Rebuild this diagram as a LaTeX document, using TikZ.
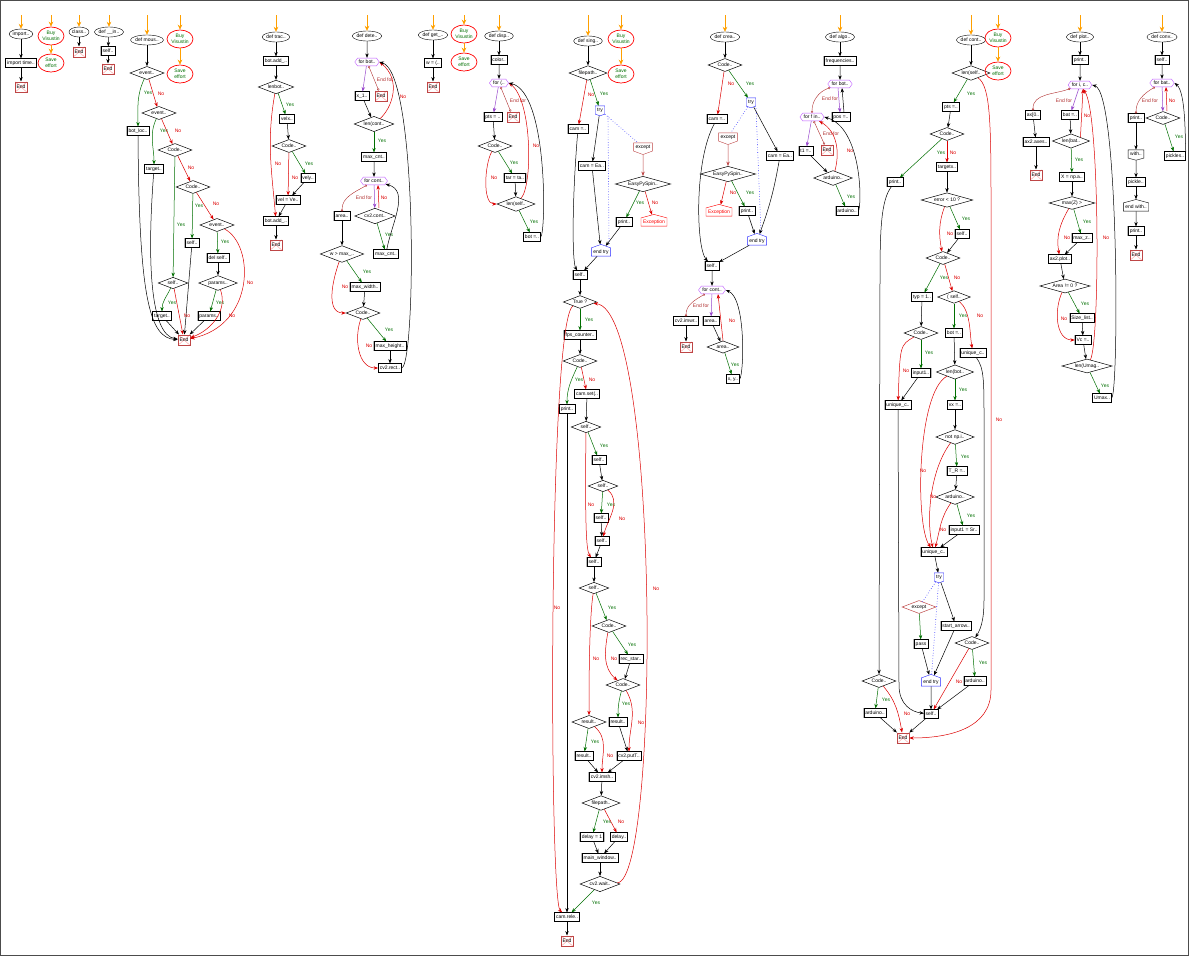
\documentclass[tikz,border=0pt]{standalone}
\usepackage{fontspec}
\setmainfont{Liberation Sans}
\usetikzlibrary{arrows.meta,shapes.geometric,shapes.symbols}
\newcommand{\chartfont}{\fontsize{5}{5.6}\selectfont}
\definecolor{yesc}{RGB}{0,110,0}
\definecolor{noc}{RGB}{220,0,0}
\definecolor{loopc}{RGB}{190,90,255}
\definecolor{efc}{RGB}{175,45,45}
\definecolor{excc}{RGB}{190,70,70}
\definecolor{orng}{RGB}{255,160,0}
\definecolor{tryc}{RGB}{40,40,255}
\tikzset{
  basefont/.style={font=\chartfont, text height=3.6pt, text depth=1pt},
  startbox/.style={basefont, ellipse, draw, fill=white, inner xsep=0pt, inner ysep=0.3pt, minimum height=10pt},
  buybox/.style={ellipse, draw=red, line width=0.7pt, font=\chartfont, text=yesc, align=center, inner sep=0pt, minimum width=26pt, minimum height=18pt},
  procbox/.style={basefont, rectangle, draw, fill=white, line width=0.5pt, inner xsep=1.5pt, inner ysep=2pt, preaction={draw=gray!55, line width=1.6pt}},
  decbox/.style={basefont, diamond, draw, fill=white, line width=0.5pt, aspect=2.6, inner sep=1pt},
  widebox/.style={aspect=3.6},
  forbox/.style={basefont, signal, signal to=east and west, signal pointer angle=110, draw=loopc, fill=white, inner xsep=1pt, inner ysep=1.6pt},
  trybox/.style={basefont, signal, signal to=south, signal pointer angle=140, draw=tryc, fill=white, inner xsep=2pt, inner ysep=1.8pt},
  endtrybox/.style={trybox, signal to=north},
  exceptbox/.style={trybox, draw=excc},
  errbox/.style={trybox, signal to=north, signal pointer angle=150, draw=red, text=red},
  withbox/.style={trybox, draw=black, signal pointer angle=150},
  endwithbox/.style={withbox, signal to=north},
  endbox/.style={basefont, rectangle, draw=excc, line width=0.5pt, fill=white, minimum width=12pt, minimum height=10.5pt, inner sep=0.3pt,
    path picture={\draw[red!40, line width=0.4pt] (path picture bounding box.north west) -- (path picture bounding box.south east)
      (path picture bounding box.north east) -- (path picture bounding box.south west);}},
  arr/.style={-{Stealth[length=4.5pt,width=3.4pt]}, line width=0.5pt},
  yesline/.style={arr, draw=yesc},
  noline/.style={arr, draw=noc},
  forline/.style={arr, draw=loopc!80!black},
  excline/.style={arr, draw=excc},
  exitline/.style={draw=efc, line width=0.4pt, {Circle[open,length=2.3pt]}-{Circle[open,length=2.3pt]}},
  dotline/.style={-, draw=tryc, dotted, line width=0.6pt},
  entryline/.style={draw=orng, line width=0.8pt, -{Stealth[length=5pt,width=4.6pt]}},
  ylab/.style={basefont, text=yesc, inner sep=0.5pt},
  nlab/.style={basefont, text=noc, inner sep=0.5pt},
  eflab/.style={basefont, text=efc, inner sep=0.5pt}
}
\begin{document}
\begin{tikzpicture}[x=1pt,y=1pt]
  \useasboundingbox (0,0) rectangle (1189,-956);
  \draw[gray!60!black, line width=0.8pt] (0.4,-0.4) rectangle (1188.6,-955.6);

  % small entry columns
  \path
    (21,-15) coordinate (A0)
    (21,-34) node[startbox] (A1) {import..}
    (21,-63) node[procbox] (A2) {import time..}
    (21,-87) node[endbox] (A3) {End}
    (51,-15) coordinate (B0)
    (51,-36) node[buybox] (B1) {Buy\\Visustin}
    (51,-63) node[buybox] (B2) {Save\\effort}
    (79,-15) coordinate (C0)
    (79,-32) node[startbox] (C1) {class..}
    (79,-52) node[endbox] (C2) {End}
    (109,-15) coordinate (D0)
    (109,-32) node[startbox] (D1) {def \_\_in..}
    (108,-51) node[procbox] (D2) {self..}
    (108,-69) node[endbox] (D3) {End};
  \begin{scope}[arr]
    \draw[entryline] (A0) -- (A1);
    \draw[entryline] (B0) -- (B1);
    \draw[entryline] (B1) -- (B2);
    \draw[entryline] (C0) -- (C1);
    \draw[entryline] (D0) -- (D1);
    \draw (A1) -- (A2);
    \draw (A2) -- (A3);
    \draw (C1) -- (C2);
    \draw (D1) -- (D2);
    \draw (D2) -- (D3);
  \end{scope}

  % def mous..
  \path
    (147,-15) coordinate (E0)
    (147,-40) node[startbox] (E1) {def mous..}
    (147,-73) node[decbox] (E2) {event..}
    (138,-131) node[procbox] (E3) {bot\_loc..}
    (159,-113) node[decbox] (E4) {event..}
    (154,-169) node[procbox] (E5) {target..}
    (175,-150) node[decbox] (E6) {Code..}
    (193,-187) node[decbox] (E7) {Code..}
    (192,-243) node[procbox] (E9) {self..}
    (217,-225) node[decbox] (E10) {event..}
    (218,-258) node[procbox] (E11) {del self..}
    (218,-283) node[decbox] (E12) {params..}
    (173,-283) node[decbox] (E8) {self..}
    (162,-316) node[procbox] (E13) {target..}
    (209,-316) node[procbox] (E14) {params..}
    (184,-340) node[endbox] (E15) {End}
    (180,-15) coordinate (F0)
    (180,-39) node[buybox] (F1) {Buy\\Visustin}
    (180,-74) node[buybox] (F2) {Save\\effort};
  \begin{scope}[arr]
    \draw[entryline] (E0) -- (E1);
    \draw[entryline] (F0) -- (F1);
    \draw[entryline] (F1) -- (F2);
    \draw (E1) -- (E2);
    \draw[yesline] (E2) to[out=-115,in=90] (E3) node[ylab] at (148,-93) {Yes};
    \draw[noline] (E2) -- (E4) node[nlab] at (161,-94) {No};
    \draw[yesline] (E4) to[out=-115,in=90] (E5) node[ylab] at (164,-131) {Yes};
    \draw[noline] (E4) -- (E6) node[nlab] at (178,-131) {No};
    \draw[yesline] (E6) -- (E8) node[ylab] at (181,-225) {Yes};
    \draw[noline] (E6) -- (E7) node[nlab] at (191,-168) {No};
    \draw[yesline] (E7) -- (E9) node[ylab] at (199,-206) {Yes};
    \draw[noline] (E7) -- (E10) node[nlab] at (216,-204) {No};
    \draw[yesline] (E10) -- (E11) node[ylab] at (225,-242) {Yes};
    \draw[noline] (E10) .. controls (255,-245) and (255,-325) .. (E15) node[nlab] at (250,-283) {No};
    \draw (E11) -- (E12);
    \draw[yesline] (E12) -- (E14) node[ylab] at (220,-303) {Yes};
    \draw[noline] (E12) to[out=-70,in=20] (E15) node[nlab] at (232,-316) {No};
    \draw[yesline] (E8) to[out=-115,in=90] (E13) node[ylab] at (172,-303) {Yes};
    \draw[noline] (E8) -- (E15) node[nlab] at (187,-316) {No};
    \draw (E3) .. controls (139,-300) and (150,-338) .. (E15);
    \draw (E5) .. controls (147,-260) and (150,-335) .. (E15);
    \draw (E9) -- (E15);
    \draw (E13) -- (E15);
    \draw (E14) -- (E15);
  \end{scope}

  % def trac..
  \path
    (276,-15) coordinate (G0)
    (276,-37) node[startbox] (G1) {def trac..}
    (276,-61) node[procbox] (G2) {bot.add\_..}
    (276,-87) node[decbox] (G3) {lenbot..}
    (287,-119) node[procbox] (G4) {velx..}
    (289,-146) node[decbox] (G5) {Code..}
    (308,-178) node[procbox] (G6) {vely..}
    (288,-200) node[procbox] (G7) {vel = Ve..}
    (276,-221) node[procbox] (G8) {bot.add\_..}
    (276,-245) node[endbox] (G9) {End};
  \begin{scope}[arr]
    \draw[entryline] (G0) -- (G1);
    \draw (G1) -- (G2);
    \draw (G2) -- (G3);
    \draw[yesline] (G3) -- (G4) node[ylab] at (290,-105) {Yes};
    \draw[noline] (G3) to[out=-100,in=95] (G8) node[nlab] at (278,-164) {No};
    \draw (G4) -- (G5);
    \draw[yesline] (G5) -- (G6) node[ylab] at (309,-164) {Yes};
    \draw[noline] (G5) -- (G7) node[nlab] at (295,-178) {No};
    \draw (G6) -- (G7);
    \draw (G7) -- (G8);
    \draw (G8) -- (G9);
  \end{scope}

  % def dete..
  \path
    (367,-15) coordinate (H0)
    (367,-36) node[startbox] (H1) {def dete..}
    (367,-62) node[forbox] (H2) {for bot..}
    (362,-96) node[procbox] (H3) {x\_1..}
    (381,-96) node[endbox] (H4) {End}
    (374,-124) node[decbox] (H5) {len(cont..}
    (374,-157) node[procbox] (H6) {max\_cnt..}
    (374,-181) node[forbox] (H7) {for cont..}
    (342,-216) node[procbox] (H8) {area..}
    (375,-216) node[decbox] (H9) {cv2.cont..}
    (386,-254) node[procbox] (H10) {max\_cnt..}
    (342,-254) node[decbox] (H11) {w > max\_..}
    (365,-287) node[procbox] (H12) {max\_width..}
    (363,-313) node[decbox] (H13) {Code..}
    (390,-346) node[procbox] (H14) {max\_height..}
    (390,-368) node[procbox] (H15) {cv2.rect..};
  \begin{scope}[arr]
    \draw[entryline] (H0) -- (H1);
    \draw (H1) -- (H2);
    \draw[forline] (H2) -- (H3);
    \draw[exitline] (H2) -- (H4) node[eflab] at (385,-80) {End for};
    \draw (H3) -- (H5);
    \draw[noline] (H5) .. controls (392,-108) and (402,-80) .. (H2.east) node[nlab] at (403,-97) {No};
    \draw[yesline] (H5) -- (H6) node[ylab] at (382,-141) {Yes};
    \draw (H6) -- (H7);
    \draw[exitline] (H7) to[out=-150,in=90] (H8) node[eflab] at (364,-198) {End for};
    \draw[forline] (H7) -- (H9);
    \draw[noline] ([xshift=4pt]H9.north) -- ([xshift=4pt]H7.south) node[nlab] at (384,-198) {No};
    \draw[yesline] (H9) -- (H10) node[ylab] at (389,-235) {Yes};
    \draw (H10) to[out=80,in=-15] (H7);
    \draw (H8) -- (H11);
    \draw[yesline] (H11) -- (H12) node[ylab] at (367,-272) {Yes};
    \draw[noline] (H11) to[out=-110,in=180] (H13) node[nlab] at (345,-287) {No};
    \draw (H12) -- (H13);
    \draw[yesline] (H13) -- (H14) node[ylab] at (389,-330) {Yes};
    \draw[noline] (H13) to[out=-110,in=180] (H15) node[nlab] at (369,-346) {No};
    \draw (H14) -- (H15);
    \draw (H15.east) .. controls (416,-362) and (418,-72) .. (H2.east);
  \end{scope}

  % def get_..
  \path
    (433,-15) coordinate (I0)
    (433,-35) node[startbox] (I1) {def get\_..}
    (433,-63) node[procbox] (I2) {w = (..}
    (433,-87) node[endbox] (I3) {End}
    (464,-15) coordinate (J0)
    (464,-34) node[buybox] (J1) {Buy\\Visustin}
    (464,-62) node[buybox] (J2) {Save\\effort};
  \begin{scope}[arr]
    \draw[entryline] (I0) -- (I1);
    \draw[entryline] (J0) -- (J1);
    \draw[entryline] (J1) -- (J2);
    \draw (I1) -- (I2);
    \draw (I2) -- (I3);
  \end{scope}

  % def disp..
  \path
    (499,-15) coordinate (K0)
    (499,-36) node[startbox] (K1) {def disp..}
    (499,-60) node[procbox] (K2) {color..}
    (499,-83) node[forbox] (K3) {for (..}
    (493,-117) node[procbox] (K4) {pts = ..}
    (513,-117) node[endbox] (K5) {End}
    (495,-146) node[decbox] (K6) {Code..}
    (515,-178) node[procbox] (K7) {tar = ta..}
    (516,-204) node[decbox] (K8) {len(self..}
    (532,-237) node[procbox] (K9) {bot =..};
  \begin{scope}[arr]
    \draw[entryline] (K0) -- (K1);
    \draw (K1) -- (K2);
    \draw (K2) -- (K3);
    \draw[forline] (K3) -- (K4);
    \draw[exitline] (K3) -- (K5) node[eflab] at (518,-101) {End for};
    \draw (K4) -- (K6);
    \draw[yesline] (K6) -- (K7) node[ylab] at (514,-163) {Yes};
    \draw[noline] (K6) to[out=-120,in=180,looseness=0.7] (K8) node[nlab] at (494,-178) {No};
    \draw (K7) -- (K8);
    \draw[noline] (K8) .. controls (533,-185) and (532,-100) .. (K3.east) node[nlab] at (536,-146) {No};
    \draw[yesline] (K8) -- (K9) node[ylab] at (534,-222) {Yes};
    \draw (K9.east) .. controls (546,-232) and (548,-92) .. (K3.east);
  \end{scope}

  % def sing..
  \path
    (588,-15) coordinate (L0)
    (588,-41) node[startbox] (L1) {def sing..}
    (588,-73) node[decbox] (L2) {filepath..}
    (578,-129) node[procbox] (L3) {cam =..}
    (600,-110) node[trybox] (L4) {try}
    (592,-166) node[procbox] (L5) {cam = Ea..}
    (643,-147) node[exceptbox] (L6) {except}
    (643,-184) node[decbox, widebox] (L7) {EasyPySpin..}
    (624,-222) node[procbox] (L8) {print..}
    (654,-222) node[errbox] (L9) {Exception}
    (601,-252) node[endtrybox] (L10) {end try}
    (580,-275) node[procbox] (L11) {self..}
    (580,-302) node[decbox] (L12) {True ?}
    (580,-335) node[procbox] (L13) {fps\_counter..}
    (580,-361) node[decbox] (L14) {Code..}
    (567,-409) node[procbox] (L15) {print..}
    (587,-394) node[procbox] (L16) {cam.set(..}
    (586,-427) node[decbox] (L17) {self..}
    (599,-460) node[procbox] (L18) {self..}
    (603,-486) node[decbox] (L19) {self..}
    (601,-518) node[procbox] (L20) {self..}
    (602,-541) node[procbox] (L21) {self..}
    (594,-562) node[procbox] (L22) {self..}
    (594,-588) node[decbox] (L23) {self..}
    (609,-626) node[decbox] (L24) {Code..}
    (631,-659) node[procbox] (L25) {rec\_star..}
    (623,-685) node[decbox] (L26) {Code..}
    (618,-722) node[procbox] (L27) {result..}
    (629,-756) node[procbox] (L28) {cv2.putT..}
    (589,-722) node[decbox] (L29) {result..}
    (584,-756) node[procbox] (L30) {result..}
    (602,-777) node[procbox] (L31) {cv2.imsh..}
    (601,-803) node[decbox] (L32) {filepath..}
    (592,-837) node[procbox] (L33) {delay = 1}
    (619,-837) node[procbox] (L34) {delay..}
    (600,-858) node[procbox] (L35) {main\_window..}
    (600,-884) node[decbox] (L36) {cv2.wait..}
    (567,-917) node[procbox] (L37) {cam.rele..}
    (567,-941) node[endbox] (L38) {End}
    (621,-15) coordinate (M0)
    (621,-39) node[buybox] (M1) {Buy\\Visustin}
    (621,-74) node[buybox] (M2) {Save\\effort};
  \begin{scope}[arr]
    \draw[entryline] (L0) -- (L1);
    \draw[entryline] (M0) -- (M1);
    \draw[entryline] (M1) -- (M2);
    \draw (L1) -- (L2);
    \draw[noline] (L2) -- (L3) node[nlab] at (591,-95) {No};
    \draw[yesline] (L2) -- (L4) node[ylab] at (604,-94) {Yes};
    \draw (L4) -- (L5);
    \draw[dotline] (L4) -- (L6);
    \draw[dotline] ([xshift=8pt]L4.south) -- ([xshift=8pt]L10.north);
    \draw[excline] (L6) -- (L7);
    \draw[yesline] (L7) -- (L8) node[ylab] at (640,-203) {Yes};
    \draw[noline] (L7) -- (L9) node[nlab] at (655,-203) {No};
    \draw (L8) -- (L10);
    \draw (L5) -- (L10);
    \draw (L3) .. controls (572,-200) and (572,-262) .. (L11);
    \draw (L10) -- (L11);
    \draw (L11) -- (L12);
    \draw[yesline] (L12) -- (L13) node[ylab] at (589,-320) {Yes};
    \draw[noline] (L12) .. controls (548,-320) and (549,-900) .. (L37) node[nlab] at (557,-608) {No};
    \draw (L13) -- (L14);
    \draw[yesline] (L14) to[out=-115,in=90] (L15) node[ylab] at (579,-380) {Yes};
    \draw[noline] (L14) -- (L16) node[nlab] at (592,-380) {No};
    \draw (L16) -- (L17);
    \draw[yesline] (L17) -- (L18) node[ylab] at (604,-446) {Yes};
    \draw[noline] (L17) .. controls (585,-520) and (586,-550) .. (L22) node[nlab] at (591,-505) {No};
    \draw (L18) -- (L19);
    \draw[yesline] (L19) -- (L20) node[ylab] at (611,-505) {Yes};
    \draw[noline] (L19) to[out=-40,in=75] (L21) node[nlab] at (622,-519) {No};
    \draw (L20) -- (L21);
    \draw (L21) -- (L22);
    \draw (L22) -- (L23);
    \draw[noline] (L23) .. controls (589,-620) and (589,-690) .. (L29) node[nlab] at (596,-659) {No};
    \draw[yesline] (L23) -- (L24) node[ylab] at (612,-608) {Yes};
    \draw[yesline] (L24) -- (L25) node[ylab] at (632,-645) {Yes};
    \draw[noline] (L24) to[out=-100,in=140] (L26) node[nlab] at (614,-659) {No};
    \draw (L25) -- (L26);
    \draw[yesline] (L26) to[out=-105,in=90] (L27) node[ylab] at (626,-704) {Yes};
    \draw[noline] (L26) to[out=-60,in=90] (L28) node[nlab] at (641,-723) {No};
    \draw (L27) -- (L28);
    \draw[yesline] (L29) -- (L30) node[ylab] at (595,-742) {Yes};
    \draw[noline] (L29) to[out=-40,in=90] (L31) node[nlab] at (610,-756) {No};
    \draw (L30) -- (L31);
    \draw (L28) -- (L31);
    \draw (L31) -- (L32);
    \draw[yesline] (L32) -- (L33) node[ylab] at (607,-822) {Yes};
    \draw[noline] (L32) -- (L34) node[nlab] at (621,-822) {No};
    \draw (L33) -- (L35);
    \draw (L34) -- (L35);
    \draw (L35) -- (L36);
    \draw[yesline] (L36) -- (L37) node[ylab] at (596,-903) {Yes};
    \draw[noline] (L36) .. controls (660,-880) and (660,-310) .. (L12) node[nlab] at (656,-589) {No};
    \draw (L15) -- (L37);
    \draw (L37) -- (L38);
  \end{scope}

  % def crea..
  \path
    (725,-15) coordinate (N0)
    (725,-37) node[startbox] (N1) {def crea..}
    (725,-65) node[decbox] (N2) {Code..}
    (717,-119) node[procbox] (N3) {cam =..}
    (751,-102) node[trybox] (N4) {try}
    (728,-137) node[exceptbox] (N5) {except}
    (780,-156) node[procbox] (N6) {cam = Ea..}
    (728,-174) node[decbox, widebox] (N7) {EasyPySpin..}
    (747,-211) node[procbox] (N8) {print..}
    (719,-212) node[errbox] (N9) {Exception}
    (757,-241) node[endtrybox] (N10) {end try}
    (712,-266) node[procbox] (N11) {self..}
    (712,-290) node[forbox] (N12) {for cont..}
    (686,-321) node[procbox] (N13) {cv2.imwr..}
    (711,-321) node[procbox] (N14) {area..}
    (723,-347) node[decbox] (N15) {area..}
    (733,-379) node[procbox] (N16) {x, y..}
    (686,-347) node[endbox] (N17) {End};
  \begin{scope}[arr]
    \draw[entryline] (N0) -- (N1);
    \draw (N1) -- (N2);
    \draw[noline] (N2) -- (N3) node[nlab] at (731,-84) {No};
    \draw[yesline] (N2) -- (N4) node[ylab] at (750,-84) {Yes};
    \draw[dotline] (N4) -- (N5);
    \draw (N4) -- (N6);
    \draw[dotline] ([xshift=5pt]N4.south) -- ([xshift=4pt]N10.north);
    \draw[excline] (N5) -- (N7);
    \draw[yesline] (N7) -- (N8) node[ylab] at (750,-193) {Yes};
    \draw[noline] (N7) -- (N9) node[nlab] at (733,-193) {No};
    \draw (N8) -- (N10);
    \draw (N6) to[out=-100,in=70] (N10);
    \draw (N3) .. controls (694,-160) and (696,-248) .. (N11);
    \draw (N10) -- (N11);
    \draw (N11) -- (N12);
    \draw[exitline] (N12) to[out=-150,in=90] (N13) node[eflab] at (701,-306) {End for};
    \draw[forline] (N12) -- (N14);
    \draw[noline] (N15.north) -- ([xshift=6pt]N12.south) node[nlab] at (732,-321) {No};
    \draw (N14) -- (N15);
    \draw[yesline] (N15) -- (N16) node[ylab] at (735,-365) {Yes};
    \draw (N16.east) .. controls (744,-372) and (746,-298) .. (N12.east);
    \draw (N13) -- (N17);
  \end{scope}

  % def algo..
  \path
    (840,-15) coordinate (O0)
    (840,-37) node[startbox] (O1) {def algo..}
    (840,-61) node[procbox] (O2) {frequencies..}
    (840,-84) node[forbox] (O3) {for bot..}
    (841,-117) node[procbox] (O4) {pos =..}
    (812,-117) node[forbox] (O5) {for f in..}
    (806,-151) node[procbox] (O6) {t1 =..}
    (827,-150) node[endbox] (O7) {End}
    (833,-178) node[decbox] (O8) {arduino..}
    (847,-211) node[procbox] (O9) {arduino..};
  \begin{scope}[arr]
    \draw[entryline] (O0) -- (O1);
    \draw (O1) -- (O2);
    \draw (O2) -- (O3);
    \draw[forline] ([xshift=-2pt]O3.south) -- ([xshift=-1pt]O4.north);
    \draw ([xshift=3pt]O4.north) -- ([xshift=2pt]O3.south);
    \draw[exitline] (O3) to[out=-160,in=90] (O5) node[eflab] at (830,-99) {End for};
    \draw[forline] (O5) -- (O6);
    \draw[exitline] (O5) -- (O7) node[eflab] at (831,-134) {End for};
    \draw (O6) -- (O8);
    \draw[noline] (O8) to[out=75,in=-30] (O5) node[nlab] at (850,-151) {No};
    \draw[yesline] (O8) -- (O9) node[ylab] at (851,-197) {Yes};
    \draw (O9.east) .. controls (862,-204) and (862,-128) .. (O5.east);
  \end{scope}

  % def cont..
  \path
    (971,-15) coordinate (P0)
    (971,-40) node[startbox] (P1) {def cont..}
    (971,-73) node[decbox] (P2) {len(self..}
    (951,-107) node[procbox] (P3) {pts =..}
    (947,-134) node[decbox] (P4) {Code..}
    (895,-182) node[procbox] (P5) {print..}
    (947,-167) node[procbox] (P6) {targetx..}
    (947,-200) node[decbox, widebox] (P7) {error < 10 ?}
    (962,-234) node[procbox] (P8) {self..}
    (943,-258) node[decbox] (P9) {Code..}
    (922,-297) node[procbox] (P10) {typ = 1..}
    (954,-297) node[decbox] (P11) {( self..}
    (921,-333) node[decbox] (P12) {Code..}
    (921,-373) node[procbox] (P13) {input1..}
    (898,-405) node[procbox] (P14) {unique\_c..}
    (954,-333) node[procbox] (P15) {bot =..}
    (973,-353) node[procbox] (P16) {unique\_c..}
    (955,-372) node[decbox] (P17) {len(bot..}
    (955,-405) node[procbox] (P18) {vx =..}
    (955,-437) node[decbox] (P19) {not np.i..}
    (957,-471) node[procbox] (P20) {T\_R =..}
    (955,-497) node[decbox] (P21) {arduino..}
    (964,-530) node[procbox] (P22) {input1 = Sr..}
    (934,-552) node[procbox] (P23) {unique\_c..}
    (939,-577) node[trybox] (P24) {try}
    (919,-607) node[decbox, draw=excc] (P25) {except}
    (956,-626) node[procbox] (P26) {start\_arrow..}
    (921,-644) node[procbox] (P27) {pass}
    (931,-682) node[endtrybox] (P28) {end try}
    (931,-714) node[procbox] (P29) {self..}
    (972,-643) node[decbox] (P30) {Code..}
    (975,-681) node[procbox] (P31) {arduino..}
    (879,-681) node[decbox] (P32) {Code..}
    (875,-713) node[procbox] (P33) {arduino..}
    (903,-738) node[endbox] (P34) {End}
    (998,-15) coordinate (Q0)
    (998,-38) node[buybox] (Q1) {Buy\\Visustin}
    (998,-71) node[buybox] (Q2) {Save\\effort};
  \begin{scope}[arr]
    \draw[entryline] (P0) -- (P1);
    \draw[entryline] (Q0) -- (Q1);
    \draw[entryline] (Q1) -- (Q2);
    \draw (P1) -- (P2);
    \draw[yesline] (P2) -- (P3) node[ylab] at (971,-94) {Yes};
    \draw[noline] (P2) .. controls (990,-86) and (991,-120) .. (991,-200) -- (991,-690)
      .. controls (991,-728) and (950,-738) .. (P34) node[nlab] at (999,-420) {No};
    \draw (P3) -- (P4);
    \draw[yesline] (P4) -- (P5) node[ylab] at (941,-153) {Yes};
    \draw[noline] (P4) -- (P6) node[nlab] at (953,-153) {No};
    \draw (P6) -- (P7);
    \draw[yesline] (P7) -- (P8) node[ylab] at (966,-219) {Yes};
    \draw[noline] (P7) to[out=-110,in=100] (P9) node[nlab] at (950,-234) {No};
    \draw (P8) -- (P9);
    \draw[yesline] (P9) -- (P10) node[ylab] at (944,-278) {Yes};
    \draw[noline] (P9) -- (P11) node[nlab] at (957,-278) {No};
    \draw (P10) -- (P12);
    \draw[yesline] (P12) -- (P13) node[ylab] at (929,-353) {Yes};
    \draw[noline] (P12) .. controls (900,-345) .. (P14) node[nlab] at (906,-371) {No};
    \draw (P13) -- (P14);
    \draw (P14) -- (899,-685) .. controls (899,-705) and (912,-712) .. (P29);
    \draw[yesline] (P11) -- (P15) node[ylab] at (963,-316) {Yes};
    \draw[noline] (P11) to[out=-40,in=100,looseness=0.8] (P16) node[nlab] at (980,-316) {No};
    \draw (P15) -- (P17);
    \draw[yesline] (P17) -- (P18) node[ylab] at (963,-390) {Yes};
    \draw[noline] (P17) .. controls (917,-392) and (915,-525) .. (P23) node[nlab] at (923,-471) {No};
    \draw (P18) -- (P19);
    \draw[yesline] (P19) -- (P20) node[ylab] at (965,-457) {Yes};
    \draw[noline] (P19) .. controls (930,-470) and (926,-520) .. (P23) node[nlab] at (933,-497) {No};
    \draw (P20) -- (P21);
    \draw[yesline] (P21) -- (P22) node[ylab] at (971,-516) {Yes};
    \draw[noline] (P21) to[out=-125,in=75] (P23) node[nlab] at (943,-530) {No};
    \draw (P22) -- (P23);
    \draw (P23) -- (P24);
    \draw[dotline] (P24) -- (P25);
    \draw (P24) -- (P26);
    \draw[dotline] (P24) -- (P28);
    \draw[yesline] (P25) -- (P27);
    \draw (P27) -- (P28);
    \draw (P26) -- (P28);
    \draw (P28) -- (P29);
    \draw (P16) .. controls (984,-368) and (984,-380) .. (984,-420) -- (984,-600)
      .. controls (984,-622) and (980,-630) .. (P30);
    \draw[yesline] (P30) -- (P31) node[ylab] at (983,-663) {Yes};
    \draw[noline] (P30) -- (P29) node[nlab] at (959,-682) {No};
    \draw (P31) -- (P29);
    \draw (P5) .. controls (881,-200) and (880,-230) .. (880,-280) -- (P32);
    \draw[yesline] (P32) -- (P33) node[ylab] at (886,-700) {Yes};
    \draw[noline] (P32) to[out=-50,in=100] (P34) node[nlab] at (907,-714) {No};
    \draw (P33) -- (P34);
    \draw (P29) -- (P34);
  \end{scope}

  % def plot..
  \path
    (1080,-15) coordinate (R0)
    (1080,-37) node[startbox] (R1) {def plot..}
    (1080,-60) node[procbox] (R2) {print..}
    (1080,-85) node[forbox] (R3) {for i, c..}
    (1033,-115) node[procbox] (R4) {ax[0..}
    (1070,-115) node[procbox] (R5) {bat =..}
    (1071,-141) node[decbox] (R6) {len(bat..}
    (1072,-177) node[procbox] (R7) {X = np.a..}
    (1072,-203) node[decbox, widebox] (R8) {max(Z) >}
    (1082,-238) node[procbox] (R9) {max\_z..}
    (1060,-259) node[procbox] (R10) {ax2.plot..}
    (1065,-286) node[decbox, widebox] (R11) {Area != 0 ?}
    (1082,-318) node[procbox] (R12) {Size\_list..}
    (1083,-340) node[procbox] (R13) {Vc =..}
    (1087,-366) node[decbox, widebox] (R14) {len(Umag..}
    (1102,-398) node[procbox] (R15) {Umax..}
    (1036,-142) node[procbox] (R16) {ax2.axes..}
    (1036,-175) node[endbox] (R17) {End};
  \begin{scope}[arr]
    \draw[entryline] (R0) -- (R1);
    \draw (R1) -- (R2);
    \draw (R2) -- (R3);
    \draw[exitline] (R3) to[out=-160,in=90] (R4) node[eflab] at (1064,-101) {End for};
    \draw[forline] (R3) -- (R5);
    \draw (R5) -- (R6);
    \draw[noline] (R6.north east) -- ([xshift=3pt]R3.south) node[nlab] at (1087,-116) {No};
    \draw[yesline] (R6) -- (R7) node[ylab] at (1079,-160) {Yes};
    \draw (R7) -- (R8);
    \draw[yesline] (R8) -- (R9) node[ylab] at (1087,-222) {Yes};
    \draw[noline] (R8) to[out=-120,in=100] (R10) node[nlab] at (1067,-238) {No};
    \draw (R9) -- (R10);
    \draw (R10) -- (R11);
    \draw[yesline] (R11) -- (R12) node[ylab] at (1085,-304) {Yes};
    \draw[noline] (R11) to[out=-115,in=180] (R13) node[nlab] at (1064,-319) {No};
    \draw (R12) -- (R13);
    \draw (R13) -- (R14);
    \draw[yesline] (R14) -- (R15) node[ylab] at (1105,-386) {Yes};
    \draw[noline] (R14) .. controls (1100,-342) and (1100,-112) .. (R3) node[nlab] at (1106,-238) {No};
    \draw (R15.east) .. controls (1119,-392) and (1119,-92) .. (R3.east);
    \draw (R4) -- (R16);
    \draw (R16) -- (R17);
  \end{scope}

  % def conv..
  \path
    (1162,-15) coordinate (S0)
    (1162,-37) node[startbox] (S1) {def conv..}
    (1162,-60) node[procbox] (S2) {self..}
    (1162,-83) node[forbox] (S3) {for bat..}
    (1136,-118) node[procbox] (S4) {print..}
    (1163,-118) node[decbox] (S5) {Code..}
    (1175,-156) node[procbox] (S6) {pickles..}
    (1136,-154) node[withbox] (S7) {with..}
    (1136,-182) node[procbox] (S8) {pickle..}
    (1136,-207) node[endwithbox] (S9) {end with..}
    (1136,-231) node[procbox] (S10) {print..}
    (1136,-255) node[endbox] (S11) {End};
  \begin{scope}[arr]
    \draw[entryline] (S0) -- (S1);
    \draw (S1) -- (S2);
    \draw (S2) -- (S3);
    \draw[exitline] (S3) to[out=-150,in=90] (S4) node[eflab] at (1150,-101) {End for};
    \draw[forline] (S3) -- (S5);
    \draw[noline] ([xshift=4pt]S5.north) -- ([xshift=4pt]S3.south) node[nlab] at (1172,-101) {No};
    \draw[yesline] (S5) -- (S6) node[ylab] at (1179,-137) {Yes};
    \draw (S6.north east) .. controls (1185,-140) and (1186,-92) .. (S3.east);
    \draw (S4) -- (S7);
    \draw (S7) -- (S8);
    \draw (S8) -- (S9);
    \draw (S9) -- (S10);
    \draw (S10) -- (S11);
  \end{scope}
\end{tikzpicture}
\end{document}
